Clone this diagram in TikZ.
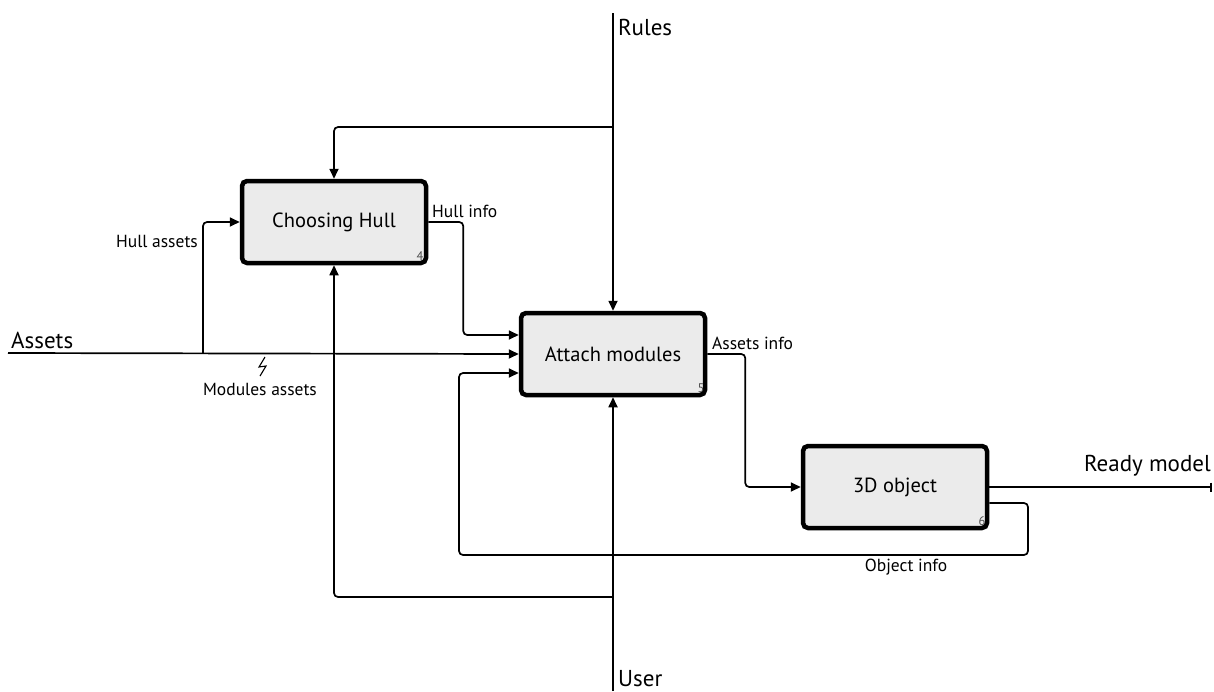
\documentclass[tikz,border=0pt]{standalone}
\usepackage{fontspec}
\setmainfont{PT Sans}
\usetikzlibrary{arrows.meta,calc}
\definecolor{boxfill}{HTML}{EBEBEB}
\tikzset{
  activity/.style={draw=black, line width=4.5pt, fill=boxfill, rounded corners=5pt,
    minimum width=184pt, minimum height=82pt, inner sep=0pt, font=\fontsize{20.5}{24}\selectfont},
  flow/.style={line width=1.7pt, rounded corners=4pt},
  arr/.style={flow, -{Triangle[length=10pt,width=9pt]}},
  biglbl/.style={font=\fontsize{23}{26}\selectfont, inner sep=0pt},
  lbl/.style={font=\fontsize{17.5}{20}\selectfont, inner sep=0pt},
  num/.style={font=\fontsize{12.5}{14}\selectfont, inner sep=0pt, text=black!70}
}
\begin{document}
\begin{tikzpicture}[x=1pt,y=-1pt]
\useasboundingbox (0,0) rectangle (1214,691);

% activity boxes
\node[activity] (hull)   at (334,222) {Choosing Hull};
\node[activity] (attach) at (613,354) {Attach modules};
\node[activity] (obj)    at (895,487) {3D object};
\node[num] (n4) at (420,256) {4};
\node[num] (n5) at (701,388) {5};
\node[num] (n6) at (982,521) {6};

% boundary and junction points
\coordinate (rulesTop) at (613,13);
\coordinate (rulesJ)   at (613,127);
\coordinate (userBot)  at (613,691);
\coordinate (userJ)    at (613,597);
\coordinate (assetsL)  at (8,353);
\coordinate (assetsJ)  at (203,353);
\coordinate (readyEnd) at (1212,487);
\coordinate (fbR)      at (1028,555);
\coordinate (fbL)      at (459,555);

% controls from above
\draw[arr] (rulesTop) -- (attach.north);
\draw[arr] (rulesJ) -| (hull.north);

% mechanism from below
\draw[arr] (userBot) -- (attach.south);
\draw[arr] (userJ) -| (hull.south);

% inputs
\draw[arr] (assetsL) -- (attach.west);
\draw[arr] (assetsJ) |- (hull.west);
\draw[arr] (hull.east) -- ++(35,0) |- ([yshift=19pt]attach.west);
\draw[arr] (attach.east) -- ++(38,0) |- (obj.west);
\draw[arr] ([yshift=-16pt]obj.east) -| (fbR) -- (fbL) |- ([yshift=-19pt]attach.west);

% output
\draw[flow, -{Bar[width=9pt]}] (obj.east) -- (readyEnd);

% tunnelled arrow mark
\draw[line width=1.1pt, line join=miter] (265,357) -- (259,367) -- (266,366) -- (260,376);

% labels
\node[biglbl, anchor=west] (lrules) at (618,27) {Rules};
\node[biglbl, anchor=base west] (luser) at (618,686) {User};
\node[biglbl, anchor=south west] (lassets) at (11,349) {Assets};
\node[biglbl, anchor=east] (lready) at (1211,466) {Ready model};
\node[lbl, anchor=east] (lhassets) at (198,241) {Hull assets};
\node[lbl, anchor=west] (lhinfo) at (432,211) {Hull info};
\node[lbl] (lmassets) at (260,389) {Modules assets};
\node[lbl, anchor=west] (lainfo) at (712,343) {Assets info};
\node[lbl] (loinfo) at (906,567) {Object info};
\end{tikzpicture}
\end{document}
